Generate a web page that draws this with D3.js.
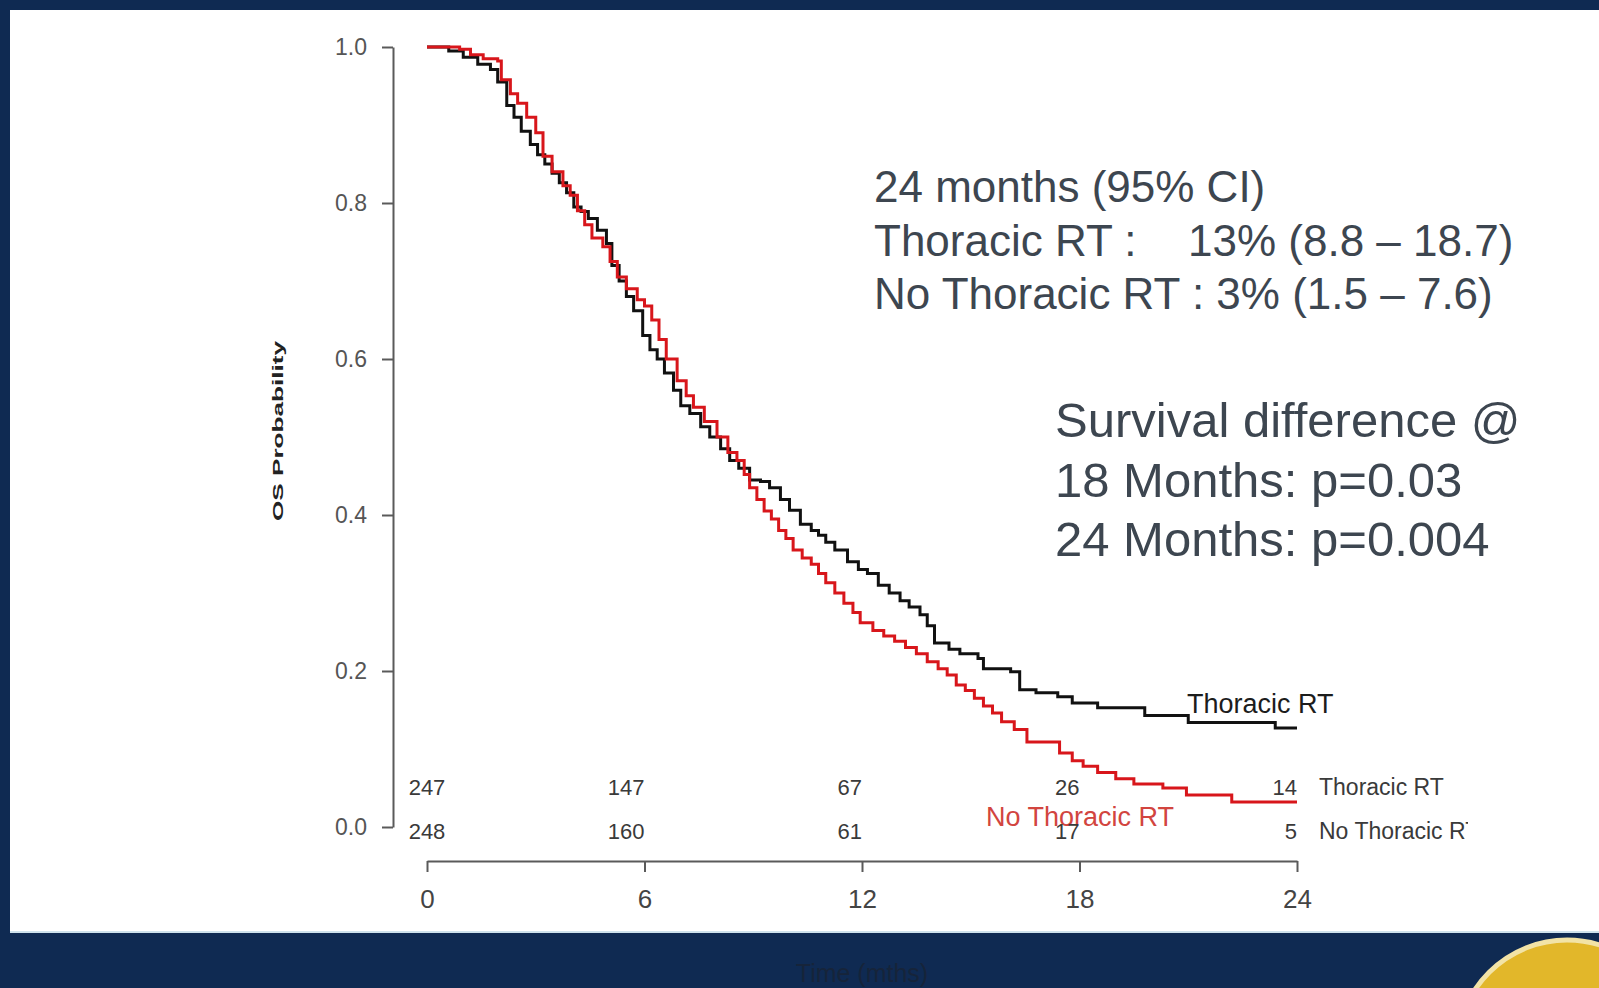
<html lang="en">

<head>
  <meta http-equiv="Content-Type" content="text/html; charset=UTF-8">
  <title>Thoracic RT survival</title>
  <script type="text/javascript" src="https://cdn.jsdelivr.net/npm/d3@7/dist/d3.min.js"></script>
  <style type="text/css">
    body { margin: 0; background: #0f2a52; }
    svg { display: block; font-family: "Liberation Sans", Arial, sans-serif; }
  </style>
</head>

<body>
  <script type="text/javascript">
    // Kaplan-Meier readings (months, survival probability)
    var thoracicTime = [0, 0.6, 1.0, 1.4, 1.75, 1.95, 2.2, 2.4, 2.6, 2.85, 3.05, 3.25, 3.45, 3.65, 3.85, 4.05, 4.25, 4.45, 4.7, 4.95,
      5.1, 5.3, 5.5, 5.7, 5.95, 6.15, 6.35, 6.55, 6.8, 7.0, 7.25, 7.55, 7.8, 8.1, 8.35, 8.6, 8.9, 9.2, 9.45, 9.75,
      10.0, 10.3, 10.6, 10.8, 11.0, 11.25, 11.6, 11.9, 12.15, 12.45, 12.75, 13.05, 13.3, 13.6, 13.8, 14.0, 14.4, 14.7, 15.2, 15.35,
      16.1, 16.35, 16.8, 17.4, 17.8, 18.5, 19.8, 21.0, 23.4, 24.0];
    var thoracicSurv = [1.0, 0.995, 0.987, 0.978, 0.971, 0.955, 0.925, 0.91, 0.892, 0.875, 0.862, 0.85, 0.838, 0.826, 0.813, 0.795, 0.789, 0.78, 0.765, 0.748,
      0.72, 0.70, 0.68, 0.662, 0.63, 0.612, 0.6, 0.582, 0.56, 0.54, 0.53, 0.513, 0.5, 0.485, 0.47, 0.46, 0.445, 0.443, 0.435, 0.42,
      0.406, 0.388, 0.38, 0.374, 0.365, 0.355, 0.34, 0.33, 0.325, 0.31, 0.30, 0.29, 0.282, 0.272, 0.258, 0.236, 0.228, 0.222, 0.216, 0.203,
      0.199, 0.176, 0.172, 0.167, 0.159, 0.153, 0.143, 0.134, 0.127, 0.127];

    var noThoracicTime = [0, 0.9, 1.2, 1.55, 1.95, 2.05, 2.3, 2.5, 2.75, 3.0, 3.2, 3.45, 3.75, 3.95, 4.15, 4.35, 4.55, 4.85, 5.05, 5.25,
      5.5, 5.8, 6.0, 6.2, 6.4, 6.6, 6.9, 7.15, 7.35, 7.65, 8.0, 8.3, 8.55, 8.75, 8.9, 9.1, 9.3, 9.5, 9.7, 9.9,
      10.1, 10.35, 10.6, 10.8, 11.0, 11.25, 11.5, 11.75, 11.95, 12.3, 12.6, 12.9, 13.2, 13.5, 13.8, 14.1, 14.35, 14.6, 14.85, 15.1,
      15.35, 15.6, 15.85, 16.2, 16.55, 17.45, 17.8, 18.1, 18.5, 19.0, 19.5, 20.3, 20.95, 22.2, 24.0];
    var noThoracicSurv = [1.0, 0.997, 0.99, 0.985, 0.982, 0.958, 0.94, 0.928, 0.91, 0.89, 0.86, 0.84, 0.822, 0.81, 0.79, 0.772, 0.755, 0.744, 0.725, 0.705,
      0.69, 0.676, 0.668, 0.65, 0.625, 0.6, 0.572, 0.553, 0.538, 0.52, 0.5, 0.48, 0.47, 0.452, 0.435, 0.42, 0.405, 0.395, 0.38, 0.37,
      0.355, 0.345, 0.337, 0.325, 0.313, 0.3, 0.287, 0.275, 0.262, 0.252, 0.245, 0.238, 0.23, 0.222, 0.212, 0.203, 0.195, 0.182, 0.175, 0.165,
      0.155, 0.146, 0.135, 0.125, 0.109, 0.095, 0.085, 0.078, 0.07, 0.062, 0.055, 0.05, 0.041, 0.032, 0.032];

    // number at risk
    var riskTimes = [0, 6, 12, 18, 24];
    var riskThoracic = [247, 147, 67, 26, 14];
    var riskNoThoracic = [248, 160, 61, 17, 5];

    var xTicks = [0, 6, 12, 18, 24];
    var yTicks = [0, 0.2, 0.4, 0.6, 0.8, 1.0];

    var noteLines = ["24 months (95% CI)", "Thoracic RT :", "No Thoracic RT : 3% (1.5 \u2013 7.6)"];
    var noteThoracicValue = "13% (8.8 \u2013 18.7)";
    var pLines = ["Survival difference @", "18 Months: p=0.03", "24 Months: p=0.004"];

    var W = 1599, H = 988;
    var svg = d3.select("body").append("svg").attr("width", W).attr("height", H);

    // slide background
    svg.append("rect").attr("width", W).attr("height", H).attr("fill", "#0f2a52");
    svg.append("rect").attr("x", 10).attr("y", 10).attr("width", W - 10).attr("height", 922).attr("fill", "#ffffff");
    svg.append("rect").attr("x", 10).attr("y", 931).attr("width", W - 10).attr("height", 2).attr("fill", "#cfe2ec");

    // logo stub bottom right
    svg.append("circle").attr("cx", 1567).attr("cy", 1050).attr("r", 110)
      .attr("fill", "#e2b72a").attr("stroke", "#f2e3a6").attr("stroke-width", 5);

    var x = d3.scaleLinear().domain([0, 24]).range([427, 1297]);
    var y = d3.scaleLinear().domain([0, 1]).range([827, 47]);

    var yAxis = d3.axisLeft(y).tickValues(yTicks).tickFormat(d3.format(".1f"))
      .tickSize(11).tickSizeOuter(0).tickPadding(15);
    var gy = svg.append("g").attr("transform", "translate(393,0)").call(yAxis);
    gy.selectAll("text").attr("font-size", 23).attr("fill", "#555").attr("font-family", "Liberation Sans, Arial");

    var xAxis = d3.axisBottom(x).tickValues(xTicks).tickSize(11).tickSizeOuter(0).tickPadding(18);
    var gx = svg.append("g").attr("transform", "translate(0,861)").call(xAxis);
    gx.selectAll("text").attr("font-size", 26).attr("fill", "#444").attr("font-family", "Liberation Sans, Arial");

    svg.selectAll(".domain, .tick line").attr("stroke", "#5a5a5a").attr("stroke-width", 2);

    // axis titles
    svg.append("text")
      .attr("transform", "translate(283,431) rotate(-90)")
      .attr("text-anchor", "middle")
      .attr("font-size", 14)
      .attr("font-weight", "bold")
      .attr("textLength", 180)
      .attr("lengthAdjust", "spacingAndGlyphs")
      .attr("fill", "#222")
      .text("OS Probability");
    svg.append("text")
      .attr("x", x(12)).attr("y", 982)
      .attr("text-anchor", "middle")
      .attr("font-size", 25)
      .attr("fill", "#16243a")
      .text("Time (mths)");

    // curves
    function toPoints(times, surv) {
      var temp = [];
      for (var i = 0; i < times.length; i++) {
        temp.push({ t: times[i], s: surv[i] });
      }
      return temp;
    }

    var line = d3.line()
      .x(function(d) { return x(d.t); })
      .y(function(d) { return y(d.s); })
      .curve(d3.curveStepAfter);

    svg.append("path")
      .attr("d", line(toPoints(thoracicTime, thoracicSurv)))
      .attr("fill", "none").attr("stroke", "#111").attr("stroke-width", 3);
    svg.append("path")
      .attr("d", line(toPoints(noThoracicTime, noThoracicSurv)))
      .attr("fill", "none").attr("stroke", "#d8161b").attr("stroke-width", 3);

    // curve labels
    svg.append("text").attr("x", 1187).attr("y", 713)
      .attr("font-size", 27).attr("fill", "#1c1c1c").text("Thoracic RT");
    svg.append("text").attr("x", 986).attr("y", 826)
      .attr("font-size", 27).attr("fill", "#d2453f").text("No Thoracic RT");

    // number at risk table
    function riskRow(values, baseline, label) {
      svg.append("g").selectAll("text").data(values).enter().append("text")
        .attr("x", function(d, i) { return x(riskTimes[i]); })
        .attr("y", baseline)
        .attr("text-anchor", function(d, i) { return riskTimes[i] === 0 ? "middle" : "end"; })
        .attr("font-size", 22)
        .attr("fill", "#3a3a3a")
        .text(function(d) { return d; });
      svg.append("text").attr("x", 1319).attr("y", baseline)
        .attr("font-size", 23).attr("fill", "#3a3a3a")
        .attr("clip-path", "url(#riskClip)")
        .text(label);
    }
    svg.append("clipPath").attr("id", "riskClip")
      .append("rect").attr("x", 1300).attr("y", 700).attr("width", 168).attr("height", 200);
    riskRow(riskThoracic, 795, "Thoracic RT");
    riskRow(riskNoThoracic, 839, "No Thoracic RT");

    // annotations
    var note = svg.append("g").attr("fill", "#3d4650").attr("font-size", 44);
    note.selectAll("text").data(noteLines).enter().append("text")
      .attr("x", 874)
      .attr("y", function(d, i) { return 202 + i * 53.5; })
      .text(function(d) { return d; });
    note.append("text").attr("x", 1188).attr("y", 202 + 53.5).text(noteThoracicValue);

    svg.append("g").attr("fill", "#3d4650").attr("font-size", 49)
      .selectAll("text").data(pLines).enter().append("text")
      .attr("x", 1055)
      .attr("y", function(d, i) { return 437 + i * 59.5; })
      .text(function(d) { return d; });
  </script>
</body>

</html>
